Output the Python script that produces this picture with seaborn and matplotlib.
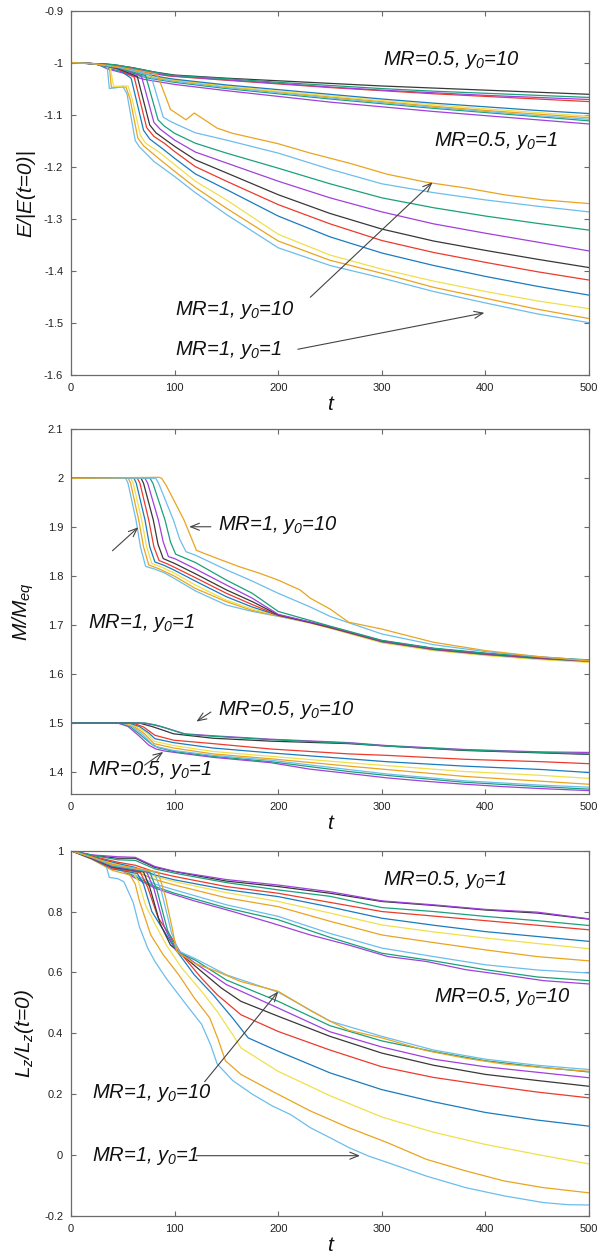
import matplotlib
matplotlib.use("Agg")
import matplotlib.pyplot as plt
import pandas as pd
import seaborn as sns
from matplotlib.ticker import FixedLocator, FuncFormatter

# gnuplot default line colours, cycled over the 20 runs in each panel
line_colors = ["#a040dc", "#1aa07a", "#6cbdec", "#e9a420",
               "#efe04c", "#1a7bbf", "#ec3a2c", "#383838"]

y0_values = [1, 2, 3, 4, 5, 6, 7, 8, 9, 10]
t_ticks = [0, 100, 200, 300, 400, 500]

# ---------------- energy E/|E(t=0)| ----------------
energy_mr05 = [
    [(0, -1.0), (25, -1.003), (35, -1.012), (50, -1.02), (70, -1.032), (100, -1.042), (150, -1.054), (200, -1.065), (250, -1.076), (300, -1.085), (350, -1.094), (400, -1.102), (450, -1.11), (500, -1.118)],
    [(0, -1.0), (25, -1.003), (38, -1.012), (55, -1.02), (75, -1.03), (100, -1.038), (150, -1.05), (200, -1.06), (250, -1.07), (300, -1.079), (350, -1.088), (400, -1.096), (450, -1.104), (500, -1.112)],
    [(0, -1.0), (28, -1.003), (42, -1.012), (60, -1.022), (80, -1.03), (100, -1.036), (150, -1.048), (200, -1.058), (250, -1.068), (300, -1.077), (350, -1.086), (400, -1.094), (450, -1.102), (500, -1.109)],
    [(0, -1.0), (30, -1.003), (45, -1.01), (65, -1.022), (85, -1.03), (100, -1.034), (150, -1.046), (200, -1.056), (250, -1.066), (300, -1.075), (350, -1.084), (400, -1.092), (450, -1.099), (500, -1.106)],
    [(0, -1.0), (30, -1.003), (48, -1.01), (70, -1.024), (90, -1.03), (100, -1.033), (150, -1.045), (200, -1.055), (250, -1.064), (300, -1.073), (350, -1.081), (400, -1.089), (450, -1.096), (500, -1.103)],
    [(0, -1.0), (32, -1.003), (50, -1.01), (72, -1.022), (90, -1.029), (100, -1.032), (150, -1.043), (200, -1.052), (250, -1.061), (300, -1.07), (350, -1.078), (400, -1.085), (450, -1.092), (500, -1.098)],
    [(0, -1.0), (35, -1.003), (55, -1.01), (75, -1.02), (95, -1.026), (150, -1.034), (200, -1.041), (250, -1.048), (300, -1.054), (350, -1.06), (400, -1.065), (450, -1.07), (500, -1.075)],
    [(0, -1.0), (40, -1.004), (60, -1.01), (80, -1.018), (100, -1.024), (150, -1.03), (200, -1.035), (250, -1.04), (300, -1.045), (350, -1.049), (400, -1.053), (450, -1.057), (500, -1.061)],
    [(0, -1.0), (40, -1.004), (62, -1.012), (85, -1.022), (100, -1.026), (150, -1.033), (200, -1.04), (250, -1.047), (300, -1.053), (350, -1.058), (400, -1.063), (450, -1.067), (500, -1.071)],
    [(0, -1.0), (42, -1.004), (65, -1.012), (90, -1.022), (100, -1.025), (150, -1.031), (200, -1.038), (250, -1.044), (300, -1.05), (350, -1.055), (400, -1.059), (450, -1.063), (500, -1.067)],
]
energy_mr1 = [
    [(0, -1.0), (20, -1.002), (30, -1.005), (35, -1.009), (37, -1.05), (45, -1.048), (50, -1.046), (54, -1.06), (62, -1.15), (66, -1.162), (80, -1.19), (100, -1.219), (120, -1.25), (150, -1.292), (200, -1.356), (250, -1.39), (300, -1.414), (350, -1.44), (400, -1.462), (450, -1.483), (500, -1.5)],
    [(0, -1.0), (20, -1.002), (30, -1.005), (37, -1.009), (39, -1.048), (48, -1.047), (53, -1.047), (57, -1.07), (64.5, -1.145), (70, -1.16), (85, -1.185), (100, -1.209), (120, -1.24), (150, -1.28), (200, -1.343), (250, -1.38), (300, -1.405), (350, -1.432), (400, -1.453), (450, -1.474), (500, -1.492)],
    [(0, -1.0), (20, -1.002), (30, -1.005), (38, -1.01), (41, -1.046), (50, -1.045), (55, -1.045), (59, -1.07), (67, -1.14), (72, -1.155), (85, -1.172), (100, -1.196), (120, -1.228), (150, -1.264), (200, -1.33), (250, -1.37), (300, -1.397), (350, -1.42), (400, -1.44), (450, -1.458), (500, -1.473)],
    [(0, -1.0), (20, -1.002), (30, -1.005), (45, -1.012), (58, -1.03), (70, -1.13), (76, -1.147), (88, -1.165), (100, -1.184), (120, -1.214), (150, -1.244), (200, -1.295), (250, -1.335), (300, -1.366), (350, -1.39), (400, -1.411), (450, -1.43), (500, -1.447)],
    [(0, -1.0), (20, -1.002), (30, -1.005), (45, -1.012), (61, -1.028), (73, -1.125), (80, -1.142), (90, -1.155), (100, -1.171), (120, -1.2), (150, -1.228), (200, -1.273), (250, -1.31), (300, -1.342), (350, -1.365), (400, -1.384), (450, -1.402), (500, -1.418)],
    [(0, -1.0), (20, -1.002), (30, -1.005), (45, -1.011), (64, -1.027), (76, -1.12), (82, -1.135), (100, -1.161), (120, -1.187), (150, -1.212), (200, -1.254), (250, -1.29), (300, -1.32), (350, -1.343), (400, -1.361), (450, -1.378), (500, -1.394)],
    [(0, -1.0), (20, -1.002), (30, -1.005), (45, -1.01), (68, -1.026), (80, -1.115), (86, -1.128), (100, -1.149), (120, -1.172), (150, -1.193), (200, -1.228), (250, -1.26), (300, -1.287), (350, -1.31), (400, -1.328), (450, -1.345), (500, -1.362)],
    [(0, -1.0), (20, -1.002), (30, -1.005), (45, -1.01), (72, -1.025), (84, -1.11), (90, -1.122), (100, -1.136), (120, -1.155), (150, -1.174), (200, -1.203), (250, -1.233), (300, -1.26), (350, -1.279), (400, -1.295), (450, -1.309), (500, -1.322)],
    [(0, -1.0), (20, -1.002), (30, -1.005), (45, -1.009), (77, -1.024), (89, -1.105), (95, -1.112), (100, -1.117), (120, -1.135), (150, -1.149), (200, -1.174), (250, -1.205), (300, -1.233), (350, -1.25), (400, -1.264), (450, -1.276), (500, -1.287)],
    [(0, -1.0), (20, -1.002), (30, -1.004), (45, -1.008), (83, -1.022), (96, -1.09), (111, -1.11), (119, -1.097), (141, -1.126), (156, -1.136), (200, -1.156), (231, -1.174), (268, -1.193), (306, -1.215), (343, -1.23), (381, -1.241), (418, -1.254), (456, -1.264), (500, -1.271)],
]

# ---------------- mass M/M_eq ----------------
mass_mr05 = [
    [(0, 1.5), (45, 1.5), (55, 1.493), (65, 1.475), (75, 1.455), (82, 1.447), (90, 1.443), (100, 1.44), (137, 1.43), (193, 1.419), (230, 1.406), (268, 1.397), (305, 1.388), (343, 1.381), (380, 1.375), (418, 1.37), (455, 1.366), (500, 1.362)],
    [(0, 1.5), (47, 1.5), (57, 1.493), (67, 1.476), (77, 1.458), (84, 1.45), (99, 1.442), (137, 1.432), (193, 1.421), (268, 1.401), (305, 1.393), (380, 1.379), (455, 1.37), (500, 1.365)],
    [(0, 1.5), (49, 1.5), (59, 1.493), (69, 1.477), (80, 1.453), (99, 1.444), (137, 1.434), (193, 1.424), (268, 1.405), (305, 1.396), (380, 1.382), (455, 1.373), (500, 1.369)],
    [(0, 1.5), (51, 1.5), (61, 1.493), (71, 1.478), (80, 1.458), (99, 1.449), (137, 1.437), (193, 1.427), (268, 1.412), (305, 1.405), (380, 1.391), (455, 1.381), (500, 1.375)],
    [(0, 1.5), (53, 1.5), (63, 1.493), (73, 1.48), (80, 1.463), (99, 1.454), (137, 1.442), (193, 1.432), (268, 1.419), (305, 1.413), (380, 1.401), (455, 1.393), (500, 1.387)],
    [(0, 1.5), (56, 1.5), (66, 1.493), (75, 1.48), (81, 1.468), (99, 1.46), (137, 1.449), (193, 1.439), (268, 1.427), (305, 1.421), (380, 1.412), (455, 1.405), (500, 1.399)],
    [(0, 1.5), (60, 1.5), (70, 1.492), (81, 1.475), (99, 1.465), (137, 1.458), (193, 1.447), (268, 1.437), (305, 1.434), (380, 1.426), (455, 1.421), (500, 1.417)],
    [(0, 1.5), (66, 1.5), (78, 1.493), (88, 1.486), (99, 1.478), (137, 1.469), (193, 1.463), (268, 1.458), (305, 1.453), (380, 1.444), (455, 1.439), (500, 1.436)],
    [(0, 1.5), (70, 1.5), (80, 1.496), (88, 1.492), (110, 1.478), (137, 1.474), (193, 1.467), (268, 1.46), (305, 1.454), (380, 1.446), (455, 1.441), (500, 1.44)],
    [(0, 1.5), (72, 1.5), (82, 1.496), (90, 1.491), (110, 1.477), (137, 1.473), (193, 1.466), (268, 1.459), (305, 1.453), (380, 1.445), (455, 1.44), (500, 1.437)],
]
mass_mr1 = [
    [(0, 2.0), (52.8, 2.0), (55, 1.99), (62.7, 1.915), (67, 1.86), (72, 1.82), (80, 1.815), (90, 1.807), (100, 1.795), (120, 1.77), (150, 1.741), (175, 1.728), (200, 1.718), (230, 1.705), (250, 1.695), (300, 1.667), (350, 1.651), (400, 1.641), (450, 1.633), (500, 1.627)],
    [(0, 2.0), (55.3, 2.0), (57.5, 1.99), (65.3, 1.915), (70, 1.86), (75, 1.823), (85, 1.815), (100, 1.8), (120, 1.775), (150, 1.748), (175, 1.73), (200, 1.719), (230, 1.705), (250, 1.694), (300, 1.665), (350, 1.649), (400, 1.639), (450, 1.631), (500, 1.625)],
    [(0, 2.0), (57.6, 2.0), (60, 1.99), (68.2, 1.915), (73, 1.86), (78, 1.826), (88, 1.818), (100, 1.806), (120, 1.782), (150, 1.751), (175, 1.733), (200, 1.72), (230, 1.705), (250, 1.694), (300, 1.664), (350, 1.648), (400, 1.638), (450, 1.63), (500, 1.624)],
    [(0, 2.0), (60.8, 2.0), (63, 1.99), (71.4, 1.915), (76, 1.86), (81, 1.829), (90, 1.822), (100, 1.812), (120, 1.79), (150, 1.758), (175, 1.737), (200, 1.72), (230, 1.706), (250, 1.695), (300, 1.666), (350, 1.65), (400, 1.64), (450, 1.632), (500, 1.626)],
    [(0, 2.0), (64, 2.0), (66.5, 1.99), (75, 1.915), (80, 1.86), (85, 1.832), (92, 1.826), (100, 1.818), (120, 1.797), (150, 1.765), (175, 1.742), (200, 1.72), (230, 1.706), (250, 1.695), (300, 1.667), (350, 1.651), (400, 1.641), (450, 1.633), (500, 1.627)],
    [(0, 2.0), (67.6, 2.0), (70, 1.99), (79.4, 1.915), (84, 1.865), (89, 1.836), (100, 1.826), (120, 1.805), (150, 1.772), (175, 1.748), (200, 1.721), (230, 1.706), (250, 1.696), (300, 1.668), (350, 1.652), (400, 1.642), (450, 1.634), (500, 1.628)],
    [(0, 2.0), (71.4, 2.0), (74, 1.99), (84.3, 1.915), (89, 1.87), (94, 1.84), (100, 1.836), (120, 1.815), (150, 1.782), (175, 1.755), (200, 1.722), (230, 1.707), (250, 1.697), (300, 1.668), (350, 1.652), (400, 1.642), (450, 1.634), (500, 1.628)],
    [(0, 2.0), (76.3, 2.0), (79, 1.99), (90.7, 1.915), (96, 1.87), (101, 1.845), (120, 1.828), (150, 1.792), (175, 1.765), (200, 1.728), (230, 1.71), (250, 1.698), (300, 1.669), (350, 1.653), (400, 1.643), (450, 1.635), (500, 1.629)],
    [(0, 2.0), (81.8, 2.0), (84.5, 1.99), (98.8, 1.915), (105, 1.875), (111, 1.85), (120, 1.843), (150, 1.813), (175, 1.79), (200, 1.765), (230, 1.738), (250, 1.718), (275, 1.7), (300, 1.682), (350, 1.66), (400, 1.646), (450, 1.636), (500, 1.628)],
    [(0, 2.0), (85, 2.002), (87.5, 2.0), (92, 1.985), (109, 1.915), (121, 1.853), (128, 1.847), (144, 1.834), (163, 1.819), (182, 1.806), (200, 1.792), (221, 1.772), (231, 1.755), (250, 1.733), (268, 1.706), (300, 1.692), (350, 1.665), (400, 1.648), (450, 1.636), (500, 1.627)],
]

# ---------------- angular momentum L_z/L_z(t=0) ----------------
lz_mr05 = [
    [(0, 1.0), (20, 0.975), (45, 0.942), (62, 0.91), (81, 0.877), (100, 0.855), (119, 0.835), (156, 0.8), (194, 0.762), (231, 0.723), (268, 0.69), (306, 0.652), (343, 0.636), (381, 0.609), (418, 0.592), (456, 0.573), (500, 0.562)],
    [(0, 1.0), (20, 0.976), (45, 0.945), (62, 0.915), (81, 0.882), (100, 0.86), (150, 0.812), (200, 0.773), (250, 0.715), (300, 0.663), (350, 0.638), (400, 0.609), (450, 0.585), (500, 0.573)],
    [(0, 1.0), (20, 0.977), (45, 0.948), (62, 0.92), (81, 0.89), (100, 0.871), (150, 0.822), (200, 0.784), (250, 0.728), (300, 0.68), (350, 0.652), (400, 0.625), (450, 0.608), (500, 0.598)],
    [(0, 1.0), (20, 0.978), (45, 0.952), (62, 0.932), (81, 0.905), (100, 0.887), (150, 0.845), (200, 0.816), (250, 0.768), (300, 0.723), (350, 0.698), (400, 0.674), (450, 0.652), (500, 0.638)],
    [(0, 1.0), (20, 0.979), (45, 0.955), (62, 0.94), (81, 0.915), (100, 0.898), (150, 0.862), (200, 0.833), (250, 0.795), (300, 0.756), (350, 0.733), (400, 0.713), (450, 0.695), (500, 0.678)],
    [(0, 1.0), (20, 0.98), (45, 0.958), (62, 0.945), (81, 0.92), (100, 0.904), (150, 0.872), (200, 0.849), (250, 0.815), (300, 0.778), (350, 0.755), (400, 0.734), (450, 0.718), (500, 0.702)],
    [(0, 1.0), (20, 0.982), (45, 0.962), (62, 0.952), (81, 0.93), (100, 0.915), (150, 0.882), (200, 0.86), (250, 0.83), (300, 0.8), (350, 0.785), (400, 0.77), (450, 0.755), (500, 0.74)],
    [(0, 1.0), (20, 0.985), (45, 0.975), (62, 0.975), (81, 0.945), (100, 0.931), (150, 0.9), (200, 0.882), (250, 0.86), (300, 0.833), (350, 0.82), (400, 0.805), (450, 0.795), (500, 0.775)],
    [(0, 1.0), (20, 0.986), (45, 0.98), (62, 0.978), (81, 0.948), (100, 0.932), (150, 0.905), (200, 0.887), (250, 0.865), (300, 0.835), (350, 0.822), (400, 0.807), (450, 0.798), (500, 0.776)],
    [(0, 1.0), (20, 0.985), (45, 0.97), (62, 0.968), (81, 0.94), (100, 0.926), (150, 0.895), (200, 0.871), (250, 0.85), (300, 0.813), (350, 0.8), (400, 0.784), (450, 0.77), (500, 0.754)],
]
lz_mr1 = [
    [(0, 1.0), (20, 0.972), (34, 0.948), (37, 0.912), (45, 0.908), (51, 0.898), (60, 0.83), (66, 0.75), (74, 0.68), (81, 0.636), (92, 0.58), (111, 0.495), (126, 0.43), (135, 0.36), (141, 0.3), (156, 0.245), (175, 0.2), (194, 0.162), (212, 0.133), (231, 0.09), (250, 0.057), (268, 0.025), (287, -0.003), (306, -0.025), (343, -0.069), (381, -0.107), (418, -0.134), (456, -0.156), (480, -0.163), (500, -0.164)],
    [(0, 1.0), (20, 0.972), (40, 0.935), (57, 0.92), (62, 0.89), (66, 0.835), (77, 0.723), (89, 0.658), (104, 0.592), (119, 0.516), (134, 0.45), (142, 0.38), (149, 0.31), (164, 0.265), (194, 0.21), (231, 0.145), (268, 0.09), (306, 0.04), (343, -0.014), (381, -0.052), (418, -0.085), (456, -0.107), (500, -0.124)],
    [(0, 1.0), (20, 0.973), (40, 0.94), (60, 0.925), (65, 0.9), (72, 0.82), (81, 0.76), (92, 0.69), (107, 0.614), (126, 0.538), (141, 0.472), (156, 0.396), (164, 0.352), (179, 0.32), (200, 0.275), (250, 0.195), (300, 0.125), (350, 0.075), (400, 0.035), (450, 0.002), (500, -0.029)],
    [(0, 1.0), (20, 0.973), (40, 0.94), (64, 0.925), (70, 0.89), (78, 0.8), (89, 0.74), (100, 0.68), (119, 0.592), (137, 0.527), (156, 0.45), (171, 0.385), (200, 0.341), (250, 0.27), (300, 0.215), (350, 0.175), (400, 0.14), (450, 0.115), (500, 0.095)],
    [(0, 1.0), (20, 0.974), (40, 0.943), (67, 0.928), (74, 0.88), (84, 0.78), (96, 0.72), (107, 0.658), (126, 0.581), (141, 0.527), (164, 0.461), (200, 0.406), (250, 0.345), (300, 0.29), (350, 0.255), (400, 0.23), (450, 0.207), (500, 0.188)],
    [(0, 1.0), (20, 0.975), (40, 0.946), (70, 0.93), (76, 0.88), (86, 0.76), (96, 0.69), (107, 0.658), (126, 0.603), (145, 0.549), (164, 0.505), (200, 0.456), (250, 0.39), (300, 0.335), (350, 0.295), (400, 0.265), (450, 0.245), (500, 0.226)],
    [(0, 1.0), (20, 0.976), (40, 0.948), (73, 0.93), (80, 0.875), (90, 0.75), (100, 0.68), (120, 0.63), (150, 0.56), (200, 0.483), (250, 0.405), (300, 0.355), (350, 0.315), (400, 0.29), (450, 0.272), (500, 0.254)],
    [(0, 1.0), (20, 0.977), (40, 0.95), (76, 0.93), (83, 0.87), (93, 0.74), (102, 0.67), (120, 0.64), (150, 0.575), (200, 0.505), (250, 0.425), (300, 0.375), (350, 0.34), (400, 0.31), (450, 0.29), (500, 0.273)],
    [(0, 1.0), (20, 0.978), (40, 0.952), (80, 0.93), (87, 0.87), (97, 0.73), (104, 0.67), (120, 0.645), (150, 0.592), (200, 0.535), (250, 0.44), (300, 0.39), (350, 0.345), (400, 0.315), (450, 0.295), (500, 0.281)],
    [(0, 1.0), (20, 0.979), (40, 0.955), (84, 0.93), (91, 0.85), (98, 0.74), (102, 0.669), (119, 0.63), (141, 0.603), (164, 0.57), (200, 0.538), (231, 0.475), (250, 0.44), (268, 0.41), (300, 0.385), (343, 0.343), (381, 0.318), (418, 0.299), (456, 0.287), (500, 0.275)],
]

# panel settings: y label, y limits, y ticks
panel_ylabels = ["E/|E(t=0)|", "M/$M_{eq}$", "$L_z$/$L_z$(t=0)"]
panel_ylims = [(-1.6, -0.9), (1.355, 2.1), (-0.2, 1.0)]
panel_yticks = [
    [-1.6, -1.5, -1.4, -1.3, -1.2, -1.1, -1.0, -0.9],
    [1.4, 1.5, 1.6, 1.7, 1.8, 1.9, 2.0, 2.1],
    [-0.2, 0.0, 0.2, 0.4, 0.6, 0.8, 1.0],
]

# text labels (x, y, string) and arrows (start -> tip) for each panel
panel_labels = [
    [(301, -0.996, "MR=0.5, $y_0$=10"), (350, -1.151, "MR=0.5, $y_0$=1"),
     (100, -1.476, "MR=1, $y_0$=10"), (100, -1.552, "MR=1, $y_0$=1")],
    [(142, 1.904, "MR=1, $y_0$=10"), (16, 1.704, "MR=1, $y_0$=1"),
     (142, 1.527, "MR=0.5, $y_0$=10"), (16, 1.404, "MR=0.5, $y_0$=1")],
    [(301, 0.904, "MR=0.5, $y_0$=1"), (350, 0.519, "MR=0.5, $y_0$=10"),
     (20, 0.204, "MR=1, $y_0$=10"), (20, -0.003, "MR=1, $y_0$=1")],
]
panel_arrows = [
    [((231, -1.451), (349, -1.230)), ((219, -1.551), (399, -1.481))],
    [((135, 1.901), (114, 1.901)), ((40, 1.852), (65, 1.900)),
     ((135, 1.5225), (121, 1.503)), ((71, 1.414), (89, 1.441))],
    [((129, 0.241), (200, 0.537)), ((121, -0.002), (279, -0.002))],
]

sns.set_theme(style="white")
plt.rcParams["font.family"] = ["Liberation Sans", "DejaVu Sans"]
plt.rcParams["mathtext.fontset"] = "custom"
plt.rcParams["mathtext.it"] = "Liberation Sans:italic"
plt.rcParams["mathtext.rm"] = "Liberation Sans:italic"
plt.rcParams["mathtext.default"] = "it"

run_order = [f"MR=0.5, y0={k}" for k in y0_values] + [f"MR=1, y0={k}" for k in y0_values]
palette = {run: line_colors[i % len(line_colors)] for i, run in enumerate(run_order)}


def long_frame(mr05, mr1):
    rows = []
    for tag, curves in (("MR=0.5", mr05), ("MR=1", mr1)):
        for y0, pts in zip(y0_values, curves):
            for t, v in pts:
                rows.append((f"{tag}, y0={y0}", t, v))
    return pd.DataFrame(rows, columns=["run", "t", "value"])


frames = [long_frame(energy_mr05, energy_mr1),
          long_frame(mass_mr05, mass_mr1),
          long_frame(lz_mr05, lz_mr1)]

fig = plt.figure(figsize=(6.08, 12.55), dpi=100)
fig.patch.set_facecolor("white")
boxes = [(0.1168, 0.7014, 0.852, 0.2902),
         (0.1168, 0.3673, 0.852, 0.2906),
         (0.1168, 0.0311, 0.852, 0.2911)]

frame_color = "#6a6a6a"
tick_fmt = FuncFormatter(lambda v, p: "0" if abs(v) < 1e-9 else f"{round(v, 3):g}")

for i, box in enumerate(boxes):
    ax = fig.add_axes(box)
    sns.lineplot(data=frames[i], x="t", y="value", hue="run", hue_order=run_order,
                 palette=palette, estimator=None, sort=False, legend=False,
                 linewidth=0.9, ax=ax)
    ax.set_xlim(0, 500)
    ax.set_ylim(*panel_ylims[i])
    ax.xaxis.set_major_locator(FixedLocator(t_ticks))
    ax.yaxis.set_major_locator(FixedLocator(panel_yticks[i]))
    ax.xaxis.set_major_formatter(tick_fmt)
    ax.yaxis.set_major_formatter(tick_fmt)
    ax.tick_params(direction="in", length=3.4, width=0.8, color=frame_color,
                   top=True, right=True, bottom=True, left=True,
                   labelsize=8, labelcolor="#222222", pad=5.6)
    for sp in ax.spines.values():
        sp.set_color(frame_color)
        sp.set_linewidth(0.9)
    ax.set_facecolor("white")
    ax.grid(False)

    ax.set_xlabel("t", fontsize=15, fontstyle="italic", color="#111111")
    ax.xaxis.set_label_coords(0.5, -0.056)
    ax.xaxis.label.set_verticalalignment("top")
    ax.set_ylabel(panel_ylabels[i], fontsize=15, fontstyle="italic", color="#111111")
    ax.yaxis.set_label_coords(-0.068, 0.5)

    for x, y, s in panel_labels[i]:
        ax.text(x, y, s, fontsize=14.5, fontstyle="italic", ha="left", va="center",
                color="#111111")
    for start, tip in panel_arrows[i]:
        ax.annotate("", xy=tip, xytext=start,
                    arrowprops=dict(arrowstyle="->,head_length=0.7,head_width=0.28",
                                    color="#444444", lw=0.8, shrinkA=0, shrinkB=0,
                                    mutation_scale=9))

fig.savefig("out.png", dpi=100, facecolor="white")
